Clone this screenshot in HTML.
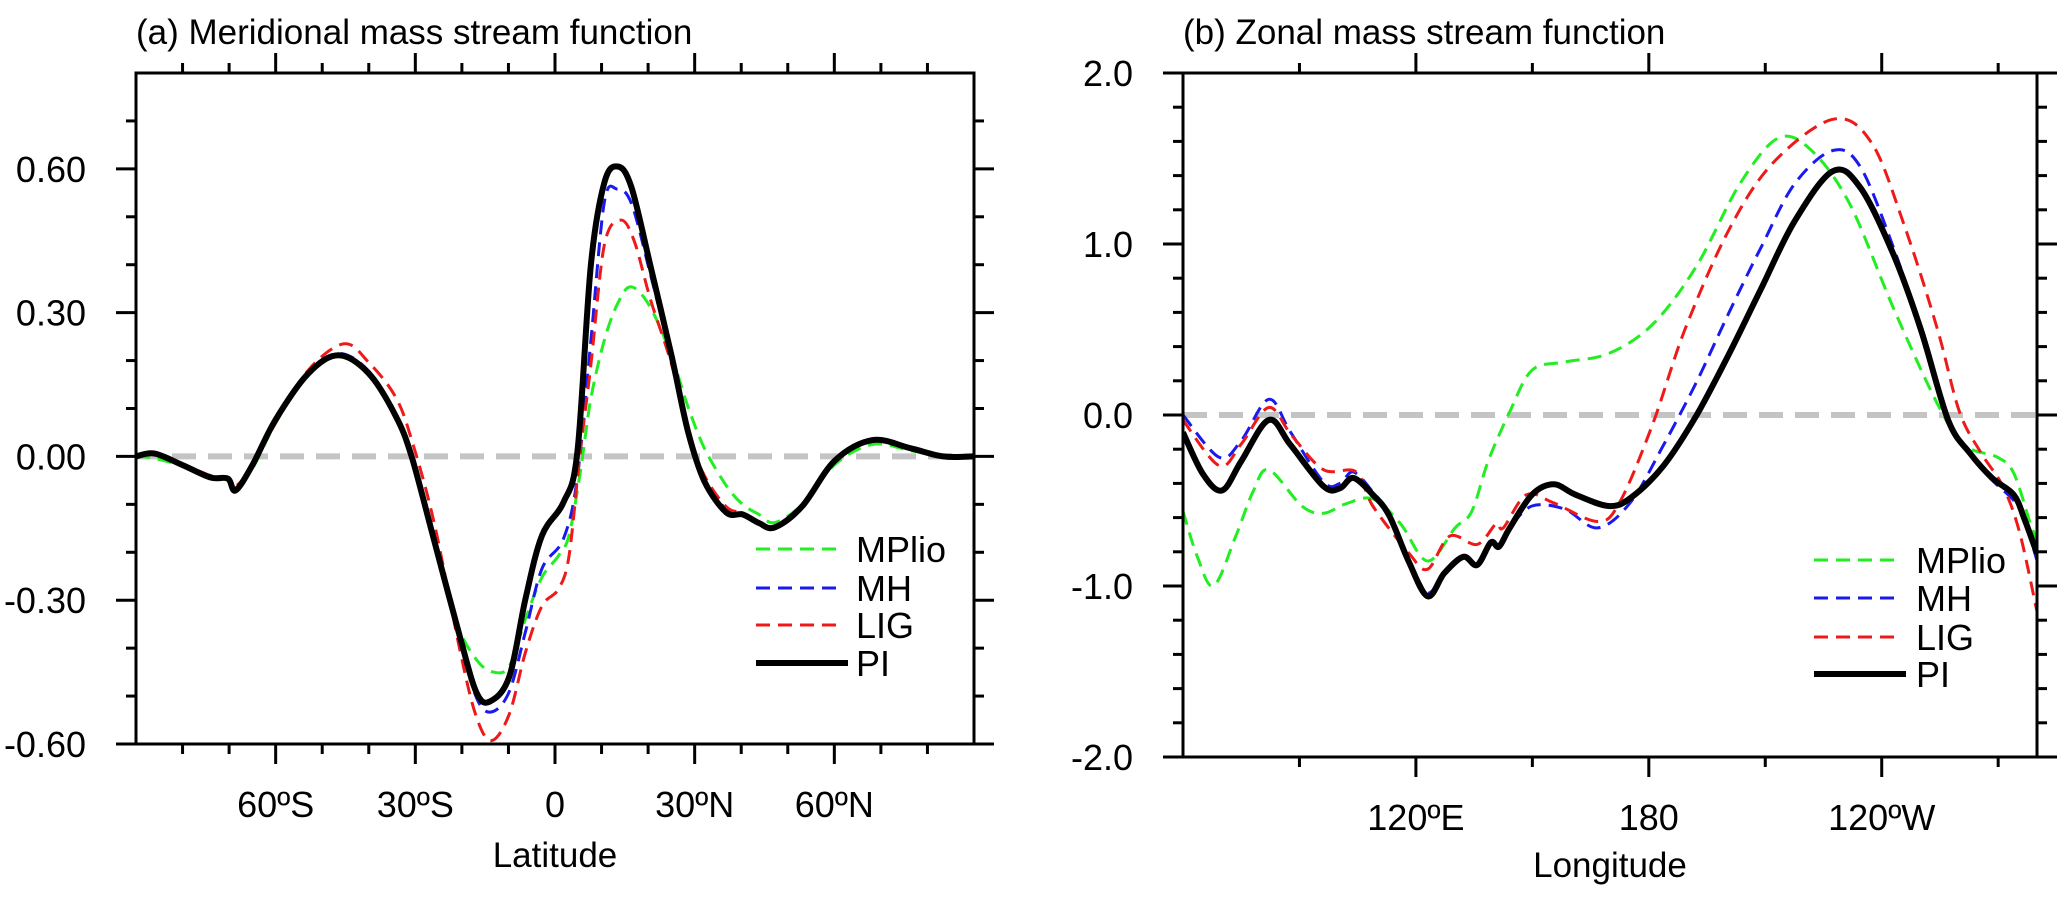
<!DOCTYPE html>
<html><head><meta charset="utf-8">
<style>
html,body{margin:0;padding:0;background:#fff;}
svg{display:block;font-family:"Liberation Sans",Arial,sans-serif;}
</style></head>
<body>
<svg id="fig" width="2067" height="902" viewBox="0 0 2067 902" xmlns="http://www.w3.org/2000/svg">
<rect x="0" y="0" width="2067" height="902" fill="#fff"/>
<g id="panelA"></g>
<g id="panelB"></g>
</svg>
<script>
// ---------- Panel (a) data ----------
const latPI   = [-90,-86,-80,-74,-70.3,-68.6,-65,-60,-53,-46.5,-40,-34.3,-30.8,-26,-20.3,-16.8,-13.9,-9.8,-6.3,-2.8,1.8,4.8,7.7,10.6,13.5,16.4,20.5,25.1,28.6,32.1,36.8,40.3,43.8,47.2,53.1,60.1,68.2,76.4,83.4,90];
const valPI   = [0,0.006,-0.018,-0.044,-0.046,-0.071,-0.018,0.077,0.173,0.211,0.173,0.086,0,-0.174,-0.381,-0.494,-0.511,-0.459,-0.295,-0.165,-0.096,0.008,0.398,0.571,0.605,0.562,0.398,0.207,0.051,-0.052,-0.117,-0.121,-0.139,-0.148,-0.104,-0.009,0.034,0.017,0,0];
const latMH   = [-90,-86,-80,-74,-70.3,-68.6,-65,-60,-53,-46.5,-40,-34.3,-30.8,-26,-20.3,-16.8,-13.6,-9.8,-6.3,-2.8,1.8,4.8,7.7,10.6,13.3,16.4,20.5,25.1,28.6,32.1,36.8,40.3,43.8,47.2,53.1,60.1,68.2,76.4,83.4,90];
const valMH   = [0,0.004,-0.016,-0.04,-0.045,-0.066,-0.018,0.075,0.175,0.215,0.178,0.09,0.005,-0.17,-0.385,-0.505,-0.533,-0.49,-0.364,-0.234,-0.172,-0.045,0.24,0.53,0.558,0.528,0.38,0.2,0.05,-0.05,-0.11,-0.118,-0.136,-0.145,-0.1,-0.005,0.033,0.016,0,0];
const latLIG  = [-90,-86,-80,-74,-70.3,-68.6,-65,-60,-53,-45.3,-40,-34.3,-30.8,-26,-20.3,-16.8,-13.6,-9.8,-6.3,-2.8,0.7,3.0,5.4,7.7,10.6,14.1,17.0,20.5,25.1,28.6,32.1,36.8,40.3,43.8,47.2,53.1,60.1,68.2,76.4,83.4,90];
const valLIG  = [0,0.004,-0.016,-0.04,-0.045,-0.062,-0.02,0.07,0.18,0.235,0.196,0.125,0.035,-0.137,-0.41,-0.546,-0.593,-0.537,-0.407,-0.312,-0.277,-0.208,0.008,0.19,0.441,0.493,0.45,0.328,0.19,0.05,-0.04,-0.105,-0.118,-0.136,-0.145,-0.1,-0.006,0.032,0.016,0,0];
const latMP   = [-90,-86,-80,-74,-70.3,-68.6,-65,-60,-53,-46.5,-40,-34.3,-30.8,-26,-21,-16.8,-13.2,-9.8,-6.3,-2.8,0.7,3.0,5.4,7.7,10.6,13.5,16.4,20.5,25.1,28.6,32.1,36.8,40.3,43.8,47.2,53.1,60.1,68.2,76.4,83.4,90];
const valMP   = [0,-0.004,-0.02,-0.04,-0.05,-0.06,-0.025,0.07,0.172,0.21,0.17,0.08,-0.005,-0.18,-0.35,-0.425,-0.45,-0.437,-0.338,-0.252,-0.208,-0.165,-0.035,0.12,0.242,0.32,0.354,0.311,0.207,0.103,0.017,-0.061,-0.1,-0.121,-0.138,-0.1,-0.017,0.025,0.012,0,0];
const yTicksA = [0.6,0.3,0,-0.3,-0.6];
const yTickLabelsA = ["0.60","0.30","0.00","-0.30","-0.60"];
const xTicksA = [-60,-30,0,30,60];
const xTickLabelsA = ["60ºS","30ºS","0","30ºN","60ºN"];

// ---------- Panel (b) data ----------
const lonPI  = [60,65.1,70.1,75,82.1,87.7,96.2,100.4,103.9,108.9,113.1,118.1,123,127.3,132.2,135.8,139.3,141.4,144.2,149.9,155.5,161.1,169.6,175.3,183.8,192.2,200.7,209.1,217.6,227.4,234.5,243,250,257.1,262.7,268.4,274,276.8,280];
const valPIb = [-0.102,-0.344,-0.441,-0.271,-0.029,-0.175,-0.417,-0.429,-0.368,-0.466,-0.587,-0.854,-1.06,-0.926,-0.829,-0.877,-0.745,-0.77,-0.66,-0.466,-0.405,-0.466,-0.532,-0.485,-0.296,-0.005,0.359,0.747,1.135,1.426,1.329,0.94,0.506,-0.029,-0.222,-0.368,-0.466,-0.611,-0.81];
const lonMH  = [60,69.3,75,82.1,87.7,96.2,100.4,103.9,108.9,113.1,118.1,123,127.3,132.2,135.8,139.3,141.4,144.2,149.9,158.3,166.8,175.3,183.8,192.2,200.7,209.1,217.6,227.4,234.5,243,250,257.1,262.7,268.4,274,276.8,280];
const valMHb = [0,-0.247,-0.15,0.092,-0.1,-0.392,-0.4,-0.333,-0.45,-0.58,-0.84,-1.04,-0.92,-0.83,-0.87,-0.74,-0.77,-0.66,-0.532,-0.55,-0.66,-0.51,-0.175,0.189,0.601,0.989,1.353,1.547,1.45,0.98,0.506,-0.02,-0.23,-0.38,-0.5,-0.62,-0.85];
const lonLIG = [60,69.3,75,82.1,88,96.2,104.6,108.9,118.1,123,128.7,135.8,140.7,142.5,148.5,155.5,166.8,172.5,181,189.4,200.7,212,227.4,237.3,245.8,254.3,260,265.6,271.2,275.5,280];
const valLIGb= [-0.03,-0.296,-0.17,0.044,-0.12,-0.32,-0.333,-0.532,-0.805,-0.902,-0.708,-0.757,-0.635,-0.66,-0.466,-0.514,-0.623,-0.51,-0.053,0.506,1.086,1.474,1.729,1.595,1.11,0.506,0.02,-0.222,-0.417,-0.684,-1.15];
const lonMP  = [60,63.7,67.9,73.6,78,82.1,90.6,96.2,101.9,108.9,116,123,130.1,134.4,138.6,144.2,149.9,158.3,169.6,180.9,192.2,203.5,213.4,221.9,231.8,243,254.3,261.3,269.8,274,278.3,280];
const valMPb = [-0.563,-0.829,-0.999,-0.708,-0.45,-0.32,-0.532,-0.575,-0.52,-0.49,-0.635,-0.854,-0.66,-0.563,-0.271,0.02,0.262,0.31,0.359,0.528,0.868,1.353,1.62,1.547,1.232,0.626,0.068,-0.175,-0.247,-0.34,-0.635,-0.73];
const yTicksB = [2,1,0,-1,-2];
const yTickLabelsB = ["2.0","1.0","0.0","-1.0","-2.0"];
const xTicksB = [120,180,240];
const xTickLabelsB = ["120ºE","180","120ºW"];

const legendNames = ["MPlio","MH","LIG","PI"];

const NS = "http://www.w3.org/2000/svg";
function mk(tag, attrs, parent){
  const e = document.createElementNS(NS, tag);
  for (const k in attrs) e.setAttribute(k, attrs[k]);
  parent.appendChild(e);
  return e;
}
function scale(d0,d1,r0,r1){ return v => r0 + (v-d0)*(r1-r0)/(d1-d0); }
function smoothPath(xs, ys){
  let d = "M" + xs[0].toFixed(1) + "," + ys[0].toFixed(1);
  for (let i=0;i<xs.length-1;i++){
    const x0=xs[Math.max(i-1,0)], y0=ys[Math.max(i-1,0)];
    const x1=xs[i], y1=ys[i], x2=xs[i+1], y2=ys[i+1];
    const x3=xs[Math.min(i+2,xs.length-1)], y3=ys[Math.min(i+2,xs.length-1)];
    const c1x=x1+(x2-x0)/6, c1y=y1+(y2-y0)/6, c2x=x2-(x3-x1)/6, c2y=y2-(y3-y1)/6;
    d += " C"+c1x.toFixed(1)+","+c1y.toFixed(1)+" "+c2x.toFixed(1)+","+c2y.toFixed(1)+" "+x2.toFixed(1)+","+y2.toFixed(1);
  }
  return d;
}
const styles = {
  MPlio:{stroke:"#22ee22",w:3,dash:"14 8"},
  MH:{stroke:"#1a1aee",w:3,dash:"14 8"},
  LIG:{stroke:"#ee1a1a",w:3,dash:"14 8"},
  PI:{stroke:"#000",w:6,dash:""}
};

function drawPanel(g, cfg){
  const {L,R,T,B,xd,yd,xMajor,xLabels,xMinor,yMajor,yLabels,yMinor,series,title,xTitle,leg,yLabelRight,xLabelY,xTitleY} = cfg;
  const sx = scale(xd[0],xd[1],L,R), sy = scale(yd[0],yd[1],B,T);
  const clipId = "clip"+L;
  const defs = mk("defs",{},g);
  const cp = mk("clipPath",{id:clipId},defs);
  mk("rect",{x:L,y:T,width:R-L,height:B-T},cp);
  const z = mk("line",{x1:L,x2:R,y1:sy(0),y2:sy(0),stroke:"#c4c4c4","stroke-width":6,"stroke-dasharray":"24 12"},g);
  
  
  const order = ["MPlio","MH","LIG","PI"];
  order.forEach(nm=>{
    const s = series[nm], st = styles[nm];
    const p = mk("path",{d:smoothPath(s[0].map(sx), s[1].map(sy)),fill:"none",stroke:st.stroke,"stroke-width":st.w,"stroke-dasharray":st.dash,"stroke-linejoin":"round","clip-path":"url(#"+clipId+")"},g);
    
    
  });
  const fr = mk("rect",{x:L,y:T,width:R-L,height:B-T,fill:"none",stroke:"#000","stroke-width":3},g);
  
  
  const tg = mk("g",{stroke:"#000","stroke-width":3},g);
  
  
  xMajor.forEach(v=>{const x=sx(v); mk("line",{x1:x,x2:x,y1:B,y2:B+20},tg); mk("line",{x1:x,x2:x,y1:T,y2:T-20},tg);});
  xMinor.forEach(v=>{const x=sx(v); mk("line",{x1:x,x2:x,y1:B,y2:B+10},tg); mk("line",{x1:x,x2:x,y1:T,y2:T-10},tg);});
  yMajor.forEach(v=>{const y=sy(v); mk("line",{x1:L,x2:L-20,y1:y,y2:y},tg); mk("line",{x1:R,x2:R+20,y1:y,y2:y},tg);});
  yMinor.forEach(v=>{const y=sy(v); mk("line",{x1:L,x2:L-10,y1:y,y2:y},tg); mk("line",{x1:R,x2:R+10,y1:y,y2:y},tg);});
  yMajor.forEach((v,i)=>{
    const t = mk("text",{x:yLabelRight,y:sy(v)+13,"text-anchor":"end","font-size":36},g);
    t.textContent = yLabels[i];
    
    
  });
  xMajor.forEach((v,i)=>{
    const t = mk("text",{x:sx(v),y:xLabelY,"text-anchor":"middle","font-size":36},g);
    t.textContent = xLabels[i];
    
    
  });
  const xt = mk("text",{x:(L+R)/2,y:xTitleY,"text-anchor":"middle","font-size":35},g);
  xt.textContent = xTitle;
  
  
  const tt = mk("text",{x:L,y:44,"font-size":35},g);
  tt.textContent = title;
  
  
  const lg = mk("g",{},g);
  
  
  legendNames.forEach((nm,i)=>{
    const st = styles[nm], y = leg.y[i];
    const ln = mk("line",{x1:leg.x0,x2:leg.x1+(nm==="PI"?5:0),y1:y,y2:y,stroke:st.stroke,"stroke-width":st.w,"stroke-dasharray":st.dash},lg);
    
    
    const t = mk("text",{x:leg.tx,y:y+13,"font-size":36},lg);
    t.textContent = nm;
    
    
  });
}
function range(a,b,s){const r=[];for(let v=a;v<=b+1e-9;v+=s)r.push(+v.toFixed(6));return r;}

drawPanel(document.getElementById("panelA"),{
  L:136,R:974,T:73,B:744,xd:[-90,90],yd:[-0.6,0.8],
  xMajor:xTicksA,xLabels:xTickLabelsA,xMinor:range(-80,80,10).filter(v=>v%30!==0),
  yMajor:yTicksA,yLabels:yTickLabelsA,yMinor:range(-0.5,0.7,0.1).filter(v=>Math.abs(Math.round(v*10))%3!==0),
  series:{PI:[latPI,valPI],MH:[latMH,valMH],LIG:[latLIG,valLIG],MPlio:[latMP,valMP]},
  title:"(a) Meridional mass stream function",xTitle:"Latitude",
  leg:{x0:756,x1:843,tx:856,y:[549,588,625,663]},yLabelRight:86,xLabelY:817,xTitleY:867
});
drawPanel(document.getElementById("panelB"),{
  L:1183,R:2037,T:73,B:757,xd:[60,280],yd:[-2,2],
  xMajor:xTicksB,xLabels:xTickLabelsB,xMinor:[90,150,210,270],
  yMajor:yTicksB,yLabels:yTickLabelsB,yMinor:range(-1.8,1.8,0.2).filter(v=>Math.abs(v-Math.round(v))>0.05),
  series:{PI:[lonPI,valPIb],MH:[lonMH,valMHb],LIG:[lonLIG,valLIGb],MPlio:[lonMP,valMPb]},
  title:"(b) Zonal mass stream function",xTitle:"Longitude",
  leg:{x0:1814,x1:1901,tx:1916,y:[560,598,637,674]},yLabelRight:1133,xLabelY:830,xTitleY:877
});
</script>
</body></html>
